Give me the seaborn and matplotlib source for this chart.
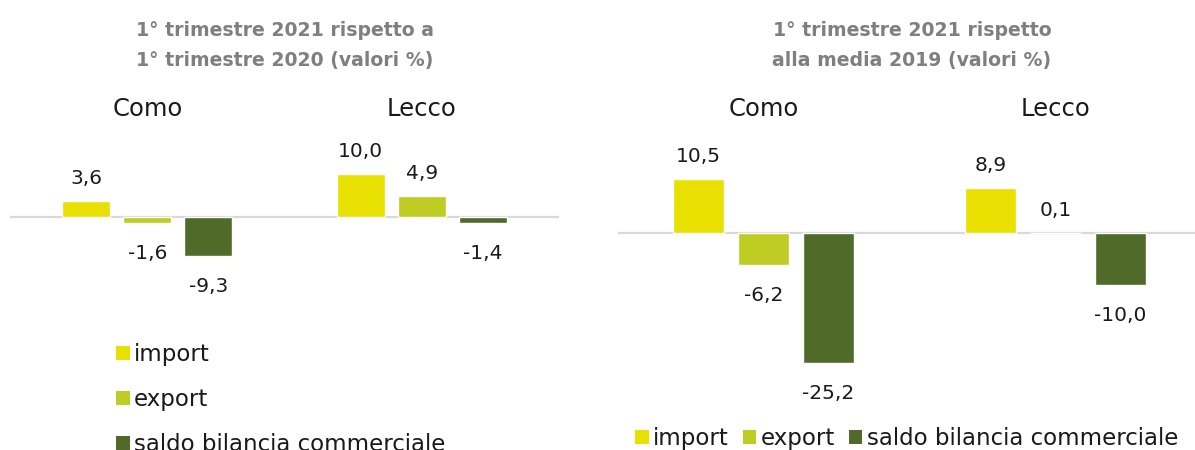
import matplotlib
matplotlib.use("Agg")
import pandas as pd
import matplotlib.pyplot as plt
import seaborn as sns
from matplotlib.patches import Patch

sns.set_theme(style="white")
plt.rcParams['font.family'] = ['DejaVu Sans']

# data
provinces = ["Como", "Lecco"]
series = ["import", "export", "saldo bilancia commerciale"]
colors = ["#E8E000", "#BECC24", "#506A29"]

# 1° trimestre 2021 vs 1° trimestre 2020
imp_2020 = [3.6, 10.0]
exp_2020 = [-1.6, 4.9]
saldo_2020 = [-9.3, -1.4]

# 1° trimestre 2021 vs media 2019
imp_2019 = [10.5, 8.9]
exp_2019 = [-6.2, 0.1]
saldo_2019 = [-25.2, -10.0]

title_left = ["1° trimestre 2021 rispetto a", "1° trimestre 2020 (valori %)"]
title_right = ["1° trimestre 2021 rispetto", "alla media 2019 (valori %)"]


def to_long(imp, exp, saldo):
    rows = []
    for vals, s in zip([imp, exp, saldo], series):
        for p, v in zip(provinces, vals):
            rows.append({"provincia": p, "serie": s, "valore": v})
    return pd.DataFrame(rows)


def fmt(v):
    return f"{v:.1f}".replace(".", ",")


def draw_panel(ax, df, title, title_x):
    sns.barplot(data=df, x="provincia", y="valore", hue="serie",
                hue_order=series, palette=colors, order=provinces,
                width=0.667, gap=0.21, saturation=1, errorbar=None,
                legend=False, ax=ax)
    ax.axhline(0, color="#D9D9D9", lw=1.6, zorder=0.5)
    for cont in ax.containers:
        for bar, v in zip(cont, cont.datavalues):
            xc = bar.get_x() + bar.get_width() / 2
            # offsets in px converted to points
            off = 17 * 0.72 if v >= 0 else -36 * 0.72
            ax.annotate(fmt(v), (xc, v), xytext=(0, off),
                        textcoords="offset points", ha="center",
                        va="baseline", fontsize=14.5, color="#1a1a1a")
    ax.xaxis.tick_top()
    ax.tick_params(axis="x", length=0, pad=21, labelsize=17.5,
                   labelcolor="#1a1a1a")
    ax.set_yticks([])
    ax.set_xlabel("")
    ax.set_ylabel("")
    for sp in ax.spines.values():
        sp.set_visible(False)
    for line, base in zip(title, [36, 66]):
        ax.figure.text(title_x, 1 - base / 450, line, ha="center",
                       va="baseline", fontsize=13.6, fontweight="bold",
                       color="#7F7F7F")


fig = plt.figure(figsize=(11.95, 4.5), dpi=100)

ax1 = fig.add_axes([10 / 1195, 1 - 300 / 450, 549 / 1195, 150 / 450])
draw_panel(ax1, to_long(imp_2020, exp_2020, saldo_2020), title_left, 284.5 / 1195)
ax1.set_xlim(-0.5, 1.5)
ax1.set_ylim(-19.6, 15.69)

ax2 = fig.add_axes([617.5 / 1195, 1 - 400 / 450, 577.5 / 1195, 250 / 450])
draw_panel(ax2, to_long(imp_2019, exp_2019, saldo_2019), title_right, 912 / 1195)
ax2.set_xlim(-0.5, 1.477)
ax2.set_ylim(-32.5, 16.24)

handles = [Patch(facecolor=c, edgecolor="none", label=s) for c, s in zip(colors, series)]

fig.legend(handles=handles, loc="upper left",
           bbox_to_anchor=(116.5 / 1195, 1 - 343 / 450), frameon=False,
           fontsize=16.5, handlelength=0.57, handleheight=0.57,
           handletextpad=0.2, labelspacing=0.96, borderpad=0, borderaxespad=0,
           labelcolor="#1a1a1a")

fig.legend(handles=handles, loc="upper left", ncol=3,
           bbox_to_anchor=(635.5 / 1195, 1 - 427 / 450), frameon=False,
           fontsize=16.5, handlelength=0.57, handleheight=0.57,
           handletextpad=0.2, columnspacing=0.62, borderpad=0, borderaxespad=0,
           labelcolor="#1a1a1a")

fig.savefig("out.png", dpi=100)
